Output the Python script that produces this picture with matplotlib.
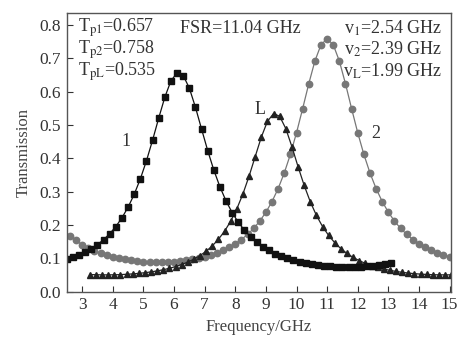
import matplotlib
matplotlib.use("Agg")
import matplotlib.pyplot as plt

plt.rcParams['font.family'] = ['Liberation Serif', 'DejaVu Serif']
plt.rcParams['mathtext.fontset'] = 'stix'

# curve 1 (black squares)
freq1 = [2.5, 2.7, 2.9, 3.1, 3.3, 3.5, 3.7, 3.9, 4.1, 4.3, 4.5, 4.7, 4.9, 5.1, 5.3, 5.5, 5.7, 5.9,
         6.1, 6.3, 6.5, 6.7, 6.9, 7.1, 7.3, 7.5, 7.7, 7.9, 8.1, 8.3, 8.5, 8.7, 8.9, 9.1, 9.3, 9.5,
         9.7, 9.9, 10.1, 10.3, 10.5, 10.7, 10.9, 11.1, 11.3, 11.5, 11.7, 11.9, 12.1, 12.3, 12.5,
         12.7, 12.9, 13.1]
trans1 = [0.0972, 0.1033, 0.1104, 0.1191, 0.1294, 0.1417, 0.1565, 0.1743, 0.1958, 0.2220,
          0.2538, 0.2923, 0.3384, 0.3928, 0.4546, 0.5205, 0.5832, 0.6322, 0.6560, 0.6479,
          0.6102, 0.5527, 0.4873, 0.4230, 0.3646, 0.3143, 0.2721, 0.2372, 0.2083, 0.1846,
          0.1650, 0.1487, 0.1353, 0.1240, 0.1146, 0.1066, 0.1000, 0.0945, 0.0898, 0.0860,
          0.0828, 0.0803, 0.0783, 0.0768, 0.0758, 0.0751, 0.0749, 0.0752, 0.0760, 0.0772,
          0.0788, 0.0810, 0.0837, 0.0870]

# curve L (triangles)
freqL = [3.25, 3.45, 3.65, 3.85, 4.05, 4.25, 4.45, 4.65, 4.85, 5.05, 5.25, 5.45, 5.65, 5.85,
         6.05, 6.25, 6.45, 6.65, 6.85, 7.05, 7.25, 7.45, 7.65, 7.85, 8.05, 8.25, 8.45, 8.65,
         8.85, 9.05, 9.25, 9.45, 9.65, 9.85, 10.05, 10.25, 10.45, 10.65, 10.85, 11.05, 11.25,
         11.45, 11.65, 11.85, 12.05, 12.25, 12.45, 12.65, 12.85, 13.05, 13.25, 13.45, 13.65,
         13.85, 14.05, 14.25, 14.45, 14.65, 14.85, 15.05]
transL = [0.0520, 0.0514, 0.0510, 0.0510, 0.0512, 0.0518, 0.0527, 0.0539, 0.0555, 0.0575,
          0.0599, 0.0629, 0.0664, 0.0707, 0.0758, 0.0820, 0.0893, 0.0981, 0.1088, 0.1218,
          0.1378, 0.1575, 0.1817, 0.2116, 0.2486, 0.2934, 0.3463, 0.4049, 0.4632, 0.5105,
          0.5340, 0.5259, 0.4890, 0.4347, 0.3751, 0.3190, 0.2699, 0.2291, 0.1958, 0.1689,
          0.1471, 0.1294, 0.1150, 0.1032, 0.0935, 0.0854, 0.0787, 0.0731, 0.0684, 0.0646,
          0.0613, 0.0586, 0.0564, 0.0546, 0.0532, 0.0522, 0.0515, 0.0511, 0.0510, 0.0511]

# curve 2 (gray circles)
freq2 = [2.6, 2.8, 3.0, 3.2, 3.4, 3.6, 3.8, 4.0, 4.2, 4.4, 4.6, 4.8, 5.0, 5.2, 5.4, 5.6, 5.8,
         6.0, 6.2, 6.4, 6.6, 6.8, 7.0, 7.2, 7.4, 7.6, 7.8, 8.0, 8.2, 8.4, 8.6, 8.8, 9.0, 9.2,
         9.4, 9.6, 9.8, 10.0, 10.2, 10.4, 10.6, 10.8, 11.0, 11.2, 11.4, 11.6, 11.8, 12.0, 12.2,
         12.4, 12.6, 12.8, 13.0, 13.2, 13.4, 13.6, 13.8, 14.0, 14.2, 14.4, 14.6, 14.8, 15.0]
trans2 = [0.1687, 0.1540, 0.1413, 0.1313, 0.1228, 0.1156, 0.1096, 0.1046, 0.1004, 0.0970,
          0.0943, 0.0922, 0.0907, 0.0897, 0.0892, 0.0893, 0.0898, 0.0909, 0.0926, 0.0948,
          0.0976, 0.1012, 0.1055, 0.1108, 0.1170, 0.1245, 0.1335, 0.1442, 0.1568, 0.1719,
          0.1900, 0.2120, 0.2385, 0.2705, 0.3093, 0.3561, 0.4117, 0.4764, 0.5485, 0.6231,
          0.6911, 0.7400, 0.7580, 0.7400, 0.6911, 0.6231, 0.5485, 0.4764, 0.4117, 0.3561,
          0.3093, 0.2705, 0.2385, 0.2120, 0.1900, 0.1719, 0.1568, 0.1442, 0.1335, 0.1245,
          0.1170, 0.1108, 0.1055]

xticks = [3, 4, 5, 6, 7, 8, 9, 10, 11, 12, 13, 14, 15]
yticks = [0.0, 0.1, 0.2, 0.3, 0.4, 0.5, 0.6, 0.7, 0.8]

fig = plt.figure(figsize=(4.58, 3.43), dpi=100)
ax = fig.add_axes([0.146, 0.149, 0.839, 0.813])

ax.plot(freq2, trans2, color='#777777', lw=0.9, marker='o', ms=4.6, mfc='#777777', mec='#777777')
ax.plot(freqL, transL, color='#222222', lw=0.9, marker='^', ms=4.6, mfc='#222222', mec='#222222')
ax.plot(freq1, trans1, color='#111111', lw=0.9, marker='s', ms=4.2, mfc='#111111', mec='#111111')

ax.set_xlim(2.5, 15.05)
ax.set_ylim(0, 0.835)
ax.set_xticks(xticks)
ax.set_yticks(yticks)
ax.set_yticklabels(['%.1f' % v for v in yticks])
ax.tick_params(direction='in', length=4, width=0.8, labelsize=12.5, colors='#333333', pad=4)
for s in ax.spines.values():
    s.set_color('#555555')
    s.set_linewidth(1.0)

ax.set_xlabel('Frequency/GHz', fontsize=12, color='#444444', labelpad=4)
ax.set_ylabel('Transmission', fontsize=12, color='#444444', labelpad=6)

tc = '#333333'
ax.text(2.85, 0.79, r'T$_{\mathrm{p1}}$=0.657', fontsize=13, color=tc, va='center')
ax.text(2.85, 0.725, r'T$_{\mathrm{p2}}$=0.758', fontsize=13, color=tc, va='center')
ax.text(2.85, 0.66, r'T$_{\mathrm{pL}}$=0.535', fontsize=13, color=tc, va='center')
ax.text(6.2, 0.79, 'FSR=11.04 GHz', fontsize=13, color=tc, va='center')
ax.text(14.75, 0.79, r'v$_{\mathrm{1}}$=2.54 GHz', fontsize=13, color=tc, va='center', ha='right')
ax.text(14.75, 0.725, r'v$_{\mathrm{2}}$=2.39 GHz', fontsize=13, color=tc, va='center', ha='right')
ax.text(14.75, 0.66, r'v$_{\mathrm{L}}$=1.99 GHz', fontsize=13, color=tc, va='center', ha='right')

ax.text(4.44, 0.45, '1', fontsize=13, color=tc, ha='center', va='center')
ax.text(8.8, 0.545, 'L', fontsize=13, color=tc, ha='center', va='center')
ax.text(12.6, 0.475, '2', fontsize=13, color=tc, ha='center', va='center')

fig.savefig('out.png', dpi=100)
